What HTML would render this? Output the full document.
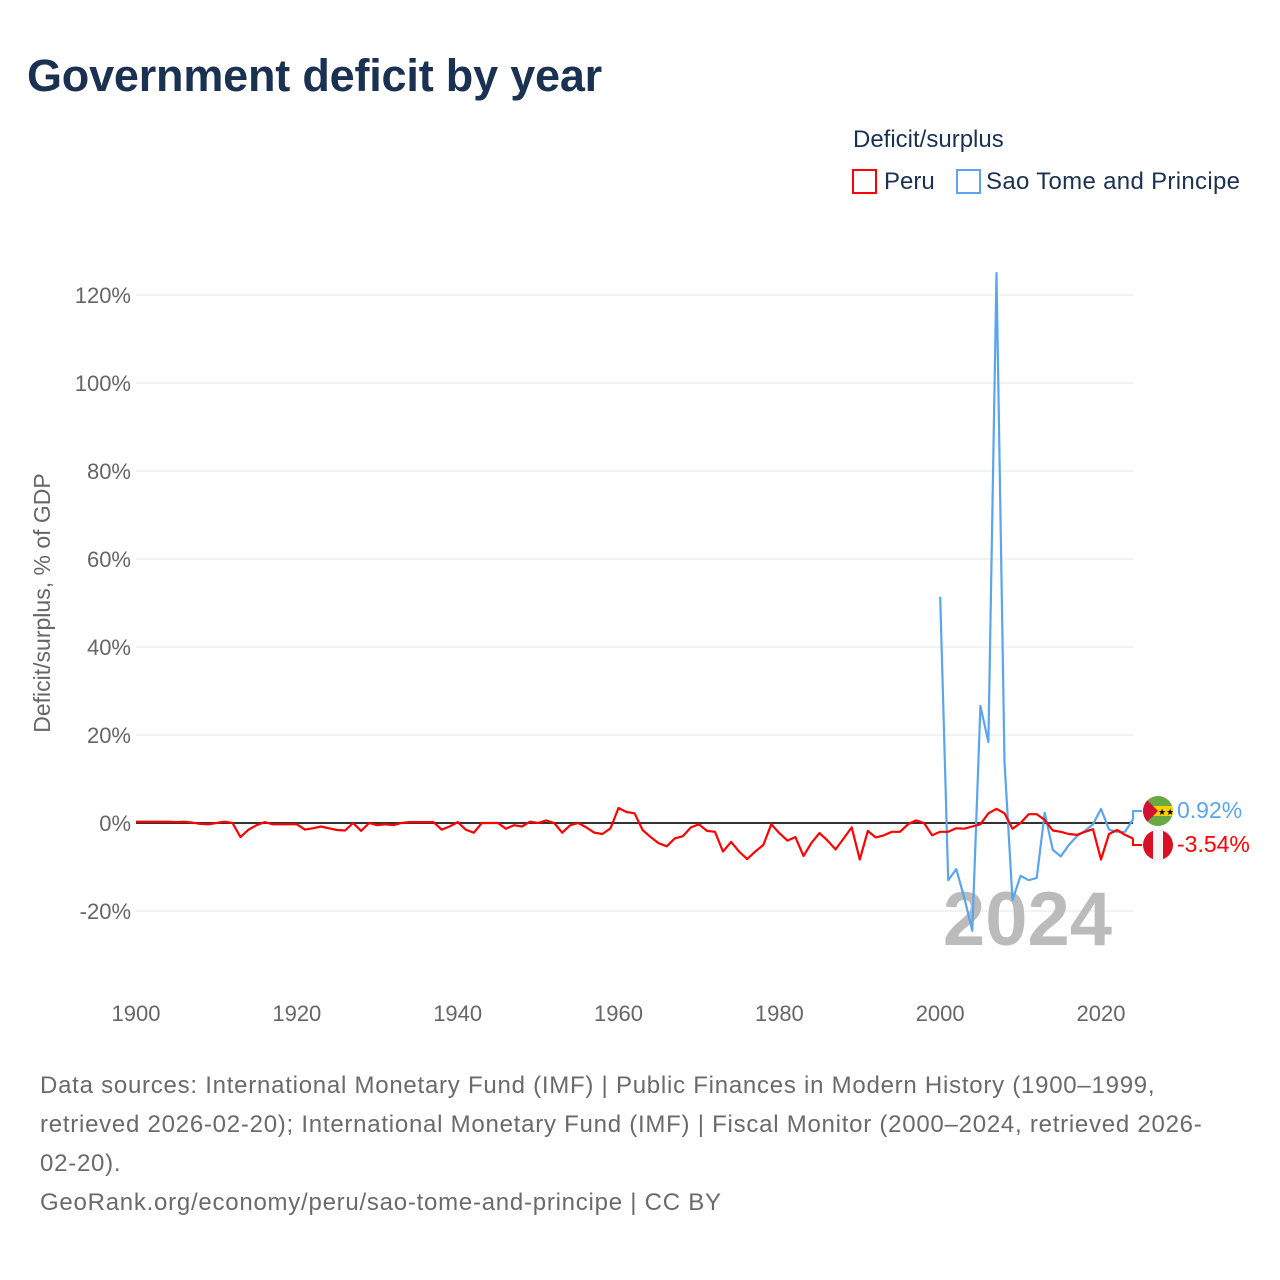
<!DOCTYPE html>
<html><head><meta charset="utf-8">
<style>
body{margin:0;background:#fff;font-family:"Liberation Sans",sans-serif;}
#wrap{position:relative;width:1280px;height:1280px;overflow:hidden;}
h1{position:absolute;left:27px;top:50px;margin:0;font-size:45px;font-weight:bold;color:#1b3152;letter-spacing:-0.2px;}
.foot{position:absolute;left:40px;top:1066px;width:1230px;font-size:24px;line-height:39px;color:#6a6a6a;white-space:nowrap;letter-spacing:0.75px;}
</style></head><body>
<div id="wrap">
<h1>Government deficit by year</h1>
<svg id="svg" width="1280" height="1280" style="position:absolute;left:0;top:0"></svg>
<div class="foot">Data sources: International Monetary Fund (IMF) | Public Finances in Modern History (1900–1999,<br>retrieved 2026-02-20); International Monetary Fund (IMF) | Fiscal Monitor (2000–2024, retrieved 2026-<br>02-20).<br>GeoRank.org/economy/peru/sao-tome-and-principe | CC BY</div>
</div>
<script>
const peruValues=[0.3,0.3,0.3,0.3,0.3,0.2,0.3,0.1,-0.2,-0.3,0,0.3,0,-3.2,-1.5,-0.5,0.2,-0.3,-0.3,-0.3,-0.3,-1.5,-1.2,-0.8,-1.2,-1.6,-1.7,0,-1.8,0,-0.5,-0.3,-0.5,0,0.2,0.2,0.2,0.2,-1.5,-0.8,0.2,-1.5,-2.2,0,0,0,-1.3,-0.5,-0.8,0.3,0,0.6,0,-2.2,-0.5,0,-1,-2.2,-2.5,-1.2,3.4,2.5,2.2,-1.6,-3.2,-4.6,-5.3,-3.5,-3,-1,-0.3,-1.8,-2,-6.5,-4.3,-6.5,-8.2,-6.5,-5,-0.3,-2.3,-4,-3.2,-7.5,-4.5,-2.3,-4,-6,-3.5,-1,-8.3,-1.8,-3.3,-2.8,-2,-2,-0.3,0.6,0,-2.8,-2,-2,-1.2,-1.3,-0.8,-0.3,2.2,3.2,2.2,-1.3,0,2,2,0.7,-1.7,-2,-2.5,-2.7,-2,-1.4,-8.3,-2.5,-1.6,-2.7,-3.54];
const peruStart=1900;
const stpValues=[51.4,-13,-10.5,-17,-24.5,26.6,18.4,125,13.9,-17.5,-12,-13,-12.5,2.3,-6.1,-7.6,-5,-3,-1.8,-0.3,3.2,-1.5,-2,-2,0.92];
const stpStart=2000;
const yTicks=[-20,0,20,40,60,80,100,120];
const xTicks=[1900,1920,1940,1960,1980,2000,2020];
const NS="http://www.w3.org/2000/svg";
const svg=document.getElementById('svg');
const xS=y=>136+(y-1900)*(1101-136)/120;
const yS=v=>823-v*4.4;
function el(t,a,txt){const e=document.createElementNS(NS,t);for(const k in a)e.setAttribute(k,a[k]);if(txt!==undefined)e.textContent=txt;svg.appendChild(e);return e;}
yTicks.forEach(v=>{
 const g=el('line',{x1:136,x2:1133,y1:yS(v),y2:yS(v),stroke:v===0?'#333':'#e6e6e6','stroke-width':v===0?2:1});
 
 
 const t=el('text',{x:131,y:yS(v)+8,'text-anchor':'end','font-size':22,fill:'#666','font-family':'Liberation Sans'},v+'%');
 
 
});
xTicks.forEach(y=>{
 const t=el('text',{x:xS(y),y:1021,'text-anchor':'middle','font-size':22,fill:'#666','font-family':'Liberation Sans'},String(y));
 
 
});
const yt=el('text',{transform:'translate(50,603) rotate(-90)','text-anchor':'middle','font-size':23,fill:'#666','font-family':'Liberation Sans'},'Deficit/surplus, % of GDP');


const yr=el('text',{x:1112,y:945,'text-anchor':'end','font-size':76,'font-weight':'bold',fill:'#bbb','font-family':'Liberation Sans'},'2024');


function line(vals,start,color,name){
 const d=vals.map((v,i)=>(i?'L':'M')+xS(start+i).toFixed(1)+' '+yS(v).toFixed(1)).join(' ');
 const p=el('path',{d:d,fill:'none',stroke:color,'stroke-width':2.2,'stroke-linejoin':'round'});
 
 
}
line(stpValues,stpStart,'#5aa5eb','series-sao-tome-line');
line(peruValues,peruStart,'#f00','series-peru-line');
const sl=stpValues[stpValues.length-1], pl=peruValues[peruValues.length-1];
const c1=el('path',{d:`M1133 ${yS(sl)} L1133 811 L1142 811`,fill:'none',stroke:'#5aa5eb','stroke-width':2});


const c2=el('path',{d:`M1133 ${yS(pl)} L1133 845 L1142 845`,fill:'none',stroke:'#f00','stroke-width':2});


const f1=el('g',{});


f1.innerHTML='<clipPath id="cp1"><circle cx="1158" cy="811" r="15"/></clipPath><g clip-path="url(#cp1)"><rect x="1143" y="796" width="30" height="30" fill="#6aa842"/><rect x="1143" y="806" width="30" height="10" fill="#ffce00"/><path d="M1143 796 L1158 811 L1143 826Z" fill="#d21034"/><text x="1158" y="815" font-size="9" fill="#000">★★</text></g>';
const f2=el('g',{});


f2.innerHTML='<clipPath id="cp2"><circle cx="1158" cy="845" r="15"/></clipPath><g clip-path="url(#cp2)"><rect x="1143" y="830" width="30" height="30" fill="#d91023"/><rect x="1153" y="830" width="10" height="30" fill="#f4f4f4"/></g>';
const l1=el('text',{x:1177,y:818,'font-size':23,fill:'#5aa5eb','font-family':'Liberation Sans'},sl.toFixed(2)+'%');


const l2=el('text',{x:1177,y:852,'font-size':23,fill:'#f00','font-family':'Liberation Sans'},pl.toFixed(2)+'%');


const lt=el('text',{x:853,y:147,'font-size':24,fill:'#1b3152','font-family':'Liberation Sans'},'Deficit/surplus');


const r1=el('rect',{x:853,y:170,width:23,height:23,fill:'none',stroke:'#f00','stroke-width':2});


const t1=el('text',{x:884,y:189,'font-size':24,fill:'#1b3152','font-family':'Liberation Sans'},'Peru');


const r2=el('rect',{x:957,y:170,width:23,height:23,fill:'none',stroke:'#5aa5eb','stroke-width':2});


const t2=el('text',{x:986,y:189,'font-size':24,fill:'#1b3152','font-family':'Liberation Sans','textLength':254},'Sao Tome and Principe');


</script>
</body></html>
